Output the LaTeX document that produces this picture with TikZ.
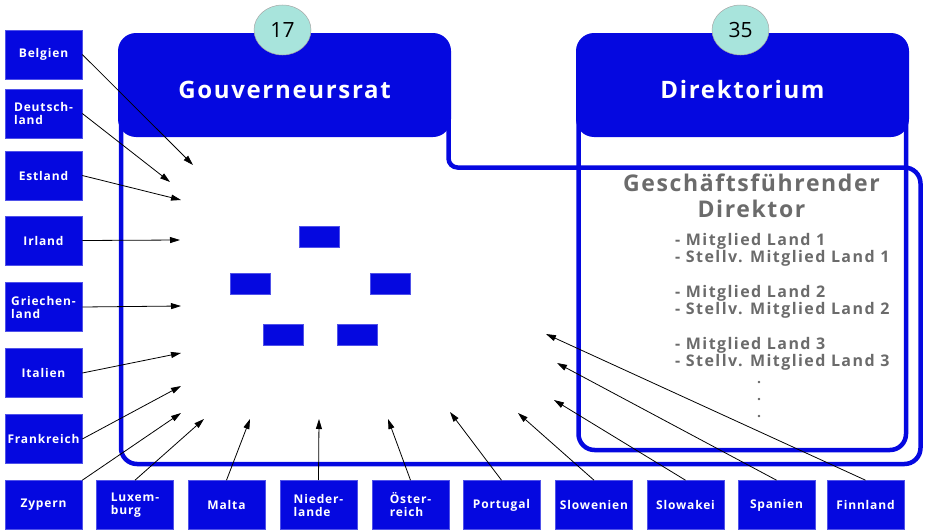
\documentclass[tikz,border=0pt]{standalone}
\usepackage{fontspec}
\setmainfont{Open Sans}
\newfontfamily\widefont[LetterSpace=7]{Open Sans}
\newfontfamily\listfont[LetterSpace=9]{Open Sans}
\usetikzlibrary{arrows.meta, shapes.geometric}

\definecolor{ezbblue}{RGB}{5,8,224}
\definecolor{seatfill}{RGB}{168,228,220}
\definecolor{textgray}{RGB}{107,107,107}

\begin{document}
\begin{tikzpicture}[
    x=1pt, y=-1pt,
    >={Triangle[length=10pt, width=6pt]},
    country/.style={rectangle, fill=ezbblue, draw=ezbblue!70!white, line width=0.6pt, minimum width=77pt, minimum height=49pt,
        inner sep=1pt, text=white, align=left, font=\widefont\bfseries\fontsize{12}{13}\selectfont},
    header/.style={rectangle, rounded corners=18pt, fill=ezbblue, minimum width=333pt, minimum height=104pt,
        text height=30pt, text depth=3pt, text=white, font=\widefont\bfseries\fontsize{24}{26}\selectfont},
    seats/.style={ellipse, fill=seatfill, draw=gray!70, line width=0.5pt, minimum width=57pt, minimum height=50pt,
        inner sep=0pt, font=\fontsize{21}{22}\selectfont},
    seat/.style={rectangle, fill=ezbblue, draw=ezbblue!70!white, line width=0.6pt, minimum width=40pt, minimum height=21pt},
    frame/.style={draw=ezbblue, line width=4.5pt},
    arr/.style={->, line width=0.8pt, black}
]
\useasboundingbox (0,0) rectangle (926,530);

% ===== Frames =====
\draw[frame, rounded corners=16pt] (121,120) -- (121,464) -- (920.5,464) -- (920.5,167.5)
    [rounded corners=9pt] -- (448.5,167.5) -- (448.5,120);
\draw[frame, rounded corners=16pt] (578.5,120) -- (578.5,450) -- (906,450) -- (906,120);

% ===== Headers =====
\node[header] (govhead) at (284.5,85) {Gouverneursrat};
\node[header] (dirhead) at (742.5,85) {Direktorium};
\node[seats] (govseats) at (282.5,30) {17};
\node[seats] (dirseats) at (740.5,30) {35};

% ===== Seats in the council =====
\node[seat] (seat1) at (319.5,236.5) {};
\node[seat] (seat2) at (250,283.5) {};
\node[seat] (seat3) at (390,283.5) {};
\node[seat] (seat4) at (283,335) {};
\node[seat] (seat5) at (357,335) {};

% ===== Executive board text =====
\node[text=textgray, align=center, font=\widefont\bfseries\fontsize{23}{26}\selectfont] (gfdir) at (751.5,196)
    {Geschäftsführender\\Direktor};
\node[text=textgray, align=left, anchor=north west, inner sep=0pt, font=\listfont\bfseries\fontsize{16}{17.3}\selectfont] (members) at (675,233)
    {- Mitglied Land 1\\- Stellv. Mitglied Land 1\\[17.3pt]- Mitglied Land 2\\- Stellv. Mitglied Land 2\\[17.3pt]- Mitglied Land 3\\- Stellv. Mitglied Land 3};
\node[text=textgray, align=center, font=\bfseries\fontsize{14}{17}\selectfont] (moredots) at (759,400) {.\\.\\.};

% ===== Countries, left column =====
\node[country] (belgien) at (43.5,54.5) {Belgien};
\node[country] (deutschland) at (43.5,113.5) {Deutsch-\\land};
\node[country] (estland) at (43.5,175.5) {Estland};
\node[country] (irland) at (43.5,240.5) {Irland};
\node[country] (griechenland) at (43.5,307) {Griechen-\\land};
\node[country] (italien) at (43.5,373) {Italien};
\node[country] (frankreich) at (43.5,439) {Frankreich};

% ===== Countries, bottom row =====
\node[country] (zypern) at (43.5,505) {Zypern};
\node[country] (luxemburg) at (135,505) {Luxem-\\burg};
\node[country] (malta) at (226.5,505) {Malta};
\node[country] (niederlande) at (318.5,505) {Nieder-\\lande};
\node[country] (oesterreich) at (410.5,505) {Öster-\\reich};
\node[country] (portugal) at (501.5,505) {Portugal};
\node[country] (slowenien) at (594,505) {Slowenien};
\node[country] (slowakei) at (685.5,505) {Slowakei};
\node[country] (spanien) at (776.5,505) {Spanien};
\node[country] (finnland) at (865.5,505) {Finnland};

% ===== Arrow targets =====
\coordinate (belgien-end) at (193,165);
\coordinate (deutschland-end) at (170,182);
\coordinate (estland-end) at (181,200);
\coordinate (irland-end) at (180,240);
\coordinate (griechenland-end) at (181,306);
\coordinate (italien-end) at (181,353);
\coordinate (frankreich-end) at (181,386);
\coordinate (zypern-end) at (181,413);
\coordinate (luxemburg-end) at (204,419);
\coordinate (malta-end) at (250,419);
\coordinate (niederlande-end) at (319,419);
\coordinate (oesterreich-end) at (388,419);
\coordinate (portugal-end) at (450,412);
\coordinate (slowenien-end) at (518,413);
\coordinate (slowakei-end) at (554,400);
\coordinate (spanien-end) at (557,363);
\coordinate (finnland-end) at (546,334);

% ===== Arrows =====
\draw[arr] (belgien.east) -- (belgien-end);
\draw[arr] (deutschland.east) -- (deutschland-end);
\draw[arr] (estland.east) -- (estland-end);
\draw[arr] (irland.east) -- (irland-end);
\draw[arr] (griechenland.east) -- (griechenland-end);
\draw[arr] (italien.east) -- (italien-end);
\draw[arr] (frankreich.east) -- (frankreich-end);
\draw[arr] (zypern.north east) -- (zypern-end);
\draw[arr] (luxemburg.north) -- (luxemburg-end);
\draw[arr] (malta.north) -- (malta-end);
\draw[arr] (niederlande.north) -- (niederlande-end);
\draw[arr] (oesterreich.north) -- (oesterreich-end);
\draw[arr] (portugal.north) -- (portugal-end);
\draw[arr] (slowenien.north) -- (slowenien-end);
\draw[arr] (slowakei.north) -- (slowakei-end);
\draw[arr] (spanien.north) -- (spanien-end);
\draw[arr] (finnland.north) -- (finnland-end);

\end{tikzpicture}
\end{document}
